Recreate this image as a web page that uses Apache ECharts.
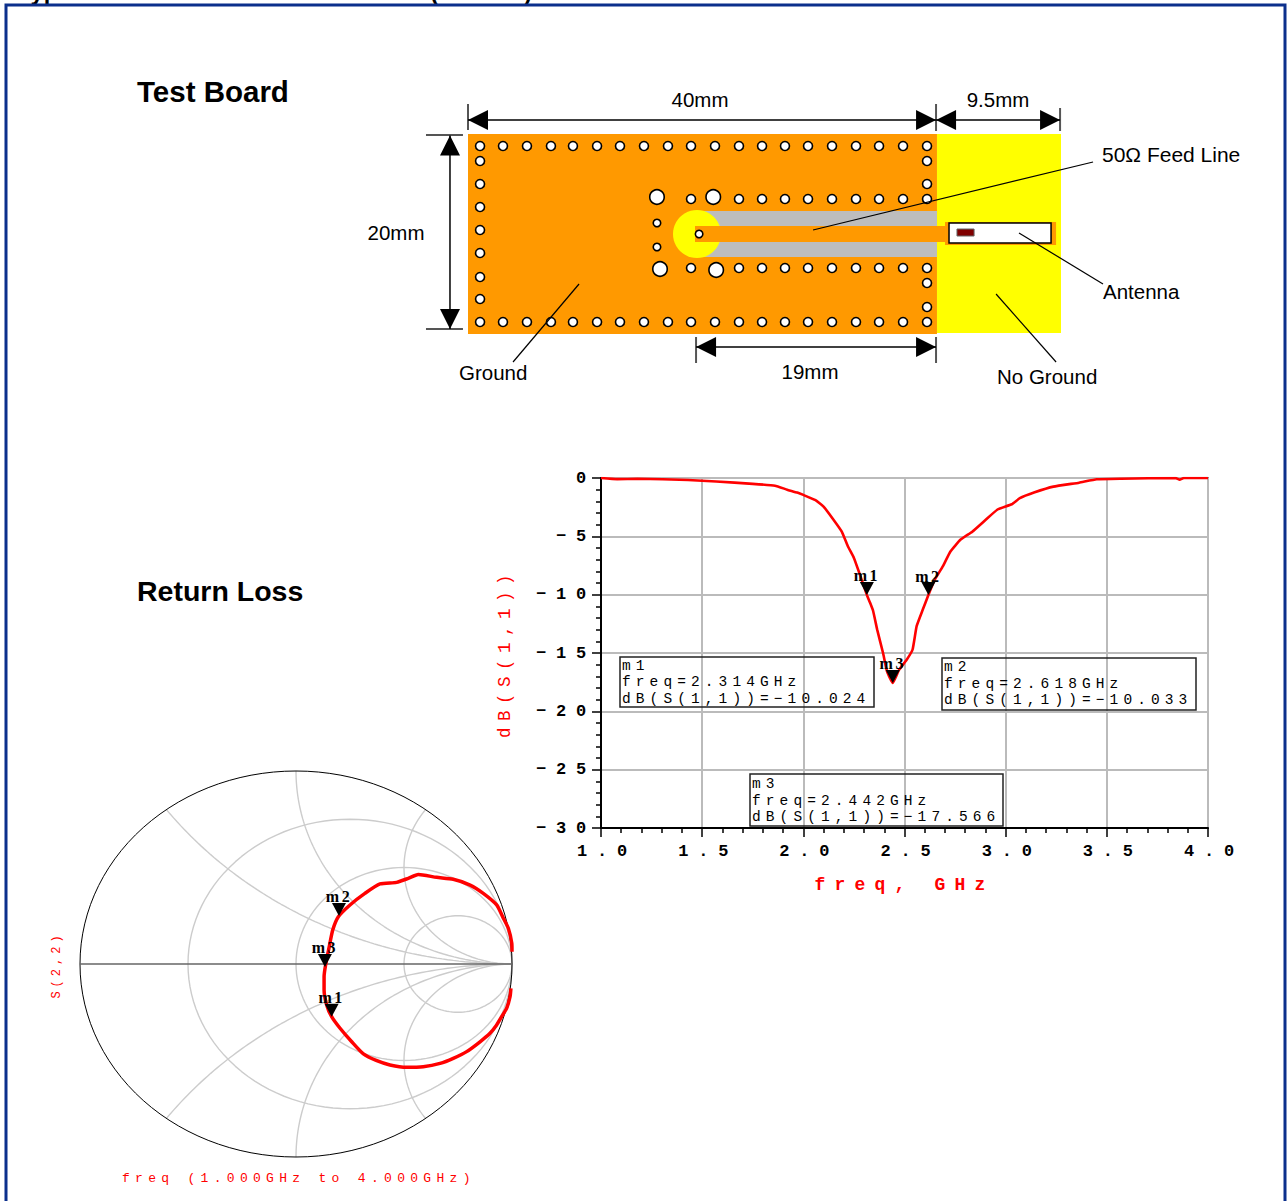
<!DOCTYPE html>
<html>
<head>
<meta charset="utf-8">
<title>Test Board and Return Loss</title>
<script src="https://cdn.jsdelivr.net/npm/echarts@6/dist/echarts.min.js"></script>
<style>
html,body{margin:0;padding:0;background:#fff;overflow:hidden}
#chart{width:1288px;height:1201px}
text[style*="Liberation Mono"]{letter-spacing:4px}
text[style*="14.5px"]{letter-spacing:5.1px}
text[style*="17px"]{letter-spacing:9.8px}
text[style*="18px"]{letter-spacing:9.2px}
text[style*="17.5px"]{letter-spacing:6.5px}
text[style*="13px"]{letter-spacing:5.3px}
text[style*="12px"]{letter-spacing:4px}
text[style*="Liberation Serif"]{letter-spacing:2.5px}
</style>
</head>
<body>
<div id="chart"></div>
<script>
// ---------- Return loss (dB(S(1,1)) against frequency) ----------
const freqGHz = [1.0,1.08,1.18,1.43,1.57,1.75,1.86,1.92,1.97,2.0,2.06,2.10,2.15,2.19,2.22,2.25,2.28,2.314,2.33,2.345,2.365,2.394,2.414,2.442,2.473,2.51,2.54,2.56,2.59,2.618,2.65,2.69,2.727,2.776,2.835,2.90,2.96,3.03,3.07,3.14,3.236,3.363,3.45,3.57,3.84,3.86,3.88,4.0];
const s11dB = [0,-0.1,-0.06,-0.17,-0.3,-0.5,-0.66,-1.0,-1.25,-1.45,-1.9,-2.45,-3.6,-4.6,-5.85,-6.85,-8.3,-10.024,-10.7,-11.4,-13,-15,-16.6,-17.566,-16.45,-15.6,-14.7,-12.7,-11.3,-10.033,-8.7,-7.55,-6.3,-5.3,-4.6,-3.6,-2.7,-2.25,-1.73,-1.25,-0.74,-0.4,-0.11,-0.06,0,-0.14,0,0];
const markerNames = ['m1','m2','m3'];
const markerFreq = [2.314,2.618,2.442];
const markerDB = [-10.024,-10.033,-17.566];
const xTickLabels = ['1.0','1.5','2.0','2.5','3.0','3.5','4.0'];
const yTickLabels = ['0','−5','−10','−15','−20','−25','−30'];

// ---------- Smith chart: reflection coefficient, real and imaginary parts ----------
const gammaRe = [.995,.991,.975,.952,.929,.898,.852,.790,.728,.667,.589,.512,.435,.374,.312,.258,.204,.165,.142,.130,.130,.137,.154,.170,.196,.250,.319,.389,.466,.520,.566,.651,.728,.806,.867,.929,.960,.983,.999,1.0];
const gammaIm = [-.126,-.169,-.230,-.273,-.316,-.359,-.403,-.454,-.489,-.515,-.532,-.535,-.523,-.501,-.466,-.403,-.333,-.273,-.212,-.135,-.066,-.005,.090,.176,.245,.306,.366,.415,.423,.444,.464,.449,.439,.409,.366,.306,.237,.185,.107,.064];
const smithMarkerRe = [.165,.199,.134];
const smithMarkerIm = [-.273,.249,-.015];
const smithResistances = [1/3,1,3];
const smithReactances = [0.5,1,2];

// ---------- Test board, in millimetres from the board's top-left corner ----------
const groundPlane = [0,0,40.08,20];
const noGroundArea = [40.08,0,50.68,19.9];
const cpwSlot = [19.57,7.7,40.08,12.3];
const feedLine = [19.4,9.2,40.77,10.8];
const antennaPad = [40.77,8.8,50.26,11.1];
const antennaBody = [41.11,8.9,49.83,10.9];
const antennaChip = [41.79,9.5,43.25,10.2];
const slotEnd = [19.57,10,2.05];
const rowViaX = [1.03,2.99,5.04,7.09,8.97,11.03,12.99,15.04,17.09,19.06,21.11,23.16,25.13,27.09,29.06,31.11,33.16,35.13,37.18,39.23];
const rowViaY = [1.2,18.8];
const leftViaX = 1.03;
const leftViaY = [2.7,5.0,7.3,9.6,11.9,14.3,16.5];
const rightViaX = 39.23;
const rightViaY = [2.7,5.0,14.9,17.3];
const innerViaX = [19.06,23.16,25.13,27.09,29.06,31.11,33.16,35.13,37.18,39.23];
const innerViaY = [6.5,13.4];
const feedVia = [[19.75,10],[16.15,8.9],[16.15,11.3]];
const largeVias = [[16.15,6.3],[20.96,6.3],[16.41,13.5],[21.21,13.6]];
const dimensionArrows = [[0,-1.4,40,-1.4],[40,-1.4,50.6,-1.4],[-1.54,0.15,-1.54,19.5],[19.49,21.3,40,21.3]];
const dimensionTicks = [[0,-3,0,-0.4],[40,-3,40,-0.3],[50.6,-2.6,50.6,-0.3],[-3.59,0.1,-0.43,0.1],[-3.59,19.5,-0.43,19.5],[19.49,20.3,19.49,22.9],[40,20.3,40,22.9]];
const leaderLines = [[29.49,9.6,53.42,2.8],[47.09,9.9,54.27,15],[45.13,16,50.26,22.8],[9.49,15,3.85,22.8]];

// ---------- Derived data ----------
const rowVias = rowViaY.flatMap(y => rowViaX.map(x => [x,y]));
const sideVias = leftViaY.map(y => [leftViaX,y]).concat(rightViaY.map(y => [rightViaX,y]));
const innerVias = innerViaY.flatMap(y => innerViaX.map(x => [x,y]));
const smallVias = rowVias.concat(sideVias, innerVias);

function resistanceCircle(r){
  const c = r/(r+1), R = 1/(r+1), pts = [];
  for(let a=0;a<=360;a+=3){ pts.push([c+R*Math.cos(a*Math.PI/180), R*Math.sin(a*Math.PI/180)]); }
  return pts;
}
function reactanceArc(x){
  const pts = [];
  for(let a=0;a<90;a+=1){
    const r = Math.tan(a*Math.PI/180), d=(r+1)*(r+1)+x*x;
    pts.push([(r*r+x*x-1)/d, 2*x/d]);
  }
  pts.push([1,0]);
  return pts;
}
const smithGrid = smithResistances.map(resistanceCircle)
  .concat(smithReactances.map(reactanceArc), smithReactances.map(x => reactanceArc(-x)));

const lineSeries = (data,color,width,z) => ({type:'line',xAxisIndex:2,yAxisIndex:2,data,showSymbol:false,silent:true,z,
  lineStyle:{color,width},clip:false});

// ---------- Drawing helpers for the board ----------
function rectEl(api,b,fill,stroke,lw){
  const p=api.coord([b[0],b[1]]), q=api.coord([b[2],b[3]]);
  return {type:'rect',shape:{x:p[0],y:p[1],width:q[0]-p[0],height:q[1]-p[1]},
    style:{fill,stroke:stroke||null,lineWidth:lw||0}};
}
function segEl(api,s,color,lw){
  const p=api.coord([s[0],s[1]]), q=api.coord([s[2],s[3]]);
  return {type:'line',shape:{x1:p[0],y1:p[1],x2:q[0],y2:q[1]},style:{stroke:color,lineWidth:lw}};
}
function headEl(tip,dx,dy){
  const L=20,W=10;
  return {type:'polygon',shape:{points:[tip,[tip[0]+dx*L-dy*W,tip[1]+dy*L-dx*W],[tip[0]+dx*L+dy*W,tip[1]+dy*L+dx*W]]},style:{fill:'#000'}};
}
function renderPlanes(params,api){
  const c=api.coord([slotEnd[0],slotEnd[1]]), rad=api.size([slotEnd[2],0])[0];
  return {type:'group',children:[
    rectEl(api,noGroundArea,'#ffff00'),
    rectEl(api,groundPlane,'#ff9900'),
    rectEl(api,cpwSlot,'#bdbdbd'),
    {type:'circle',shape:{cx:c[0],cy:c[1],r:rad},style:{fill:'#ffff00'}},
    rectEl(api,feedLine,'#ff9900'),
    rectEl(api,antennaPad,'#ff9900'),
    rectEl(api,antennaBody,'#ffffff','#000000',1.5),
    rectEl(api,antennaChip,'#800000','#666666',1)
  ]};
}
function renderNotes(params,api){
  const kids=[];
  dimensionTicks.forEach(s=>kids.push(segEl(api,s,'#555555',2)));
  leaderLines.forEach(s=>kids.push(segEl(api,s,'#000000',1.2)));
  dimensionArrows.forEach(d=>{
    kids.push(segEl(api,d,'#000000',1.5));
    const a=api.coord([d[0],d[1]]), b=api.coord([d[2],d[3]]);
    const len=Math.hypot(b[0]-a[0],b[1]-a[1]), ux=(b[0]-a[0])/len, uy=(b[1]-a[1])/len;
    kids.push(headEl(a,ux,uy)); kids.push(headEl(b,-ux,-uy));
  });
  return {type:'group',children:kids};
}

const MONO="Liberation Mono";
const note=(text,x,y,align,size)=>({type:'text',x,y,z:20,style:{text,fill:'#000',font:(size||20.5)+"px 'Liberation Sans'",textAlign:align||'center',textVerticalAlign:'middle'}});
const title=(text,x,y,size)=>({type:'text',x,y,z:20,style:{text,fill:'#000',font:"bold "+size+"px 'Liberation Sans'",textAlign:'left',textVerticalAlign:'middle'}});
const readoutLine=(text,x,y)=>({type:'text',x,y,z:20,style:{text,fill:'#000',font:"14.5px '"+MONO+"'",textAlign:'left',textVerticalAlign:'middle'}});
const readout=(lines,x,y)=>lines.map((t,i)=>readoutLine(t,x,y+i*16.5));
const box=(x,y,w,h)=>({type:'rect',z:19,shape:{x,y,width:w,height:h},style:{fill:'none',stroke:'#222',lineWidth:1.5}});

const markerSymbol='path://M0,0 L10,0 L5,9 Z';
const markerLabel={show:true,formatter:p=>p.name,position:'top',distance:-2,color:'#000',fontFamily:'Liberation Serif',fontSize:16,fontWeight:'bold'};

const option={
  backgroundColor:'#fff',animation:false,
  grid:[
    {left:468,top:134,width:593,height:200,show:false},
    {left:601,top:478,width:607,height:350,show:true,borderColor:'#333',borderWidth:1.5,backgroundColor:'transparent'},
    {left:80,top:771,width:432,height:386,show:false}
  ],
  xAxis:[
    {gridIndex:0,type:'value',min:0,max:50.68,show:false},
    {gridIndex:1,type:'value',min:1,max:4,interval:0.5,
      name:'freq, GHz',nameLocation:'middle',nameGap:48,
      nameTextStyle:{color:'#f00',fontFamily:MONO,fontSize:18,fontWeight:'bold'},
      axisLine:{show:true,onZero:false,lineStyle:{color:'#000',width:2}},
      axisTick:{show:true,length:9,lineStyle:{color:'#000',width:1.5}},
      minorTick:{show:true,splitNumber:5,length:5,lineStyle:{color:'#000',width:1.5}},
      axisLabel:{margin:15,padding:[0,0,0,12],color:'#000',fontFamily:MONO,fontSize:17,fontWeight:'bold',showMinLabel:true,showMaxLabel:true,
        hideOverlap:false,formatter:(v)=>xTickLabels[Math.round((v-1)/0.5)]},
      splitLine:{show:true,lineStyle:{color:'#bbb',width:2}}},
    {gridIndex:2,type:'value',min:-1,max:1,show:false}
  ],
  yAxis:[
    {gridIndex:0,type:'value',min:0,max:20,inverse:true,show:false},
    {gridIndex:1,type:'value',min:-30,max:0,interval:5,
      name:'dB(S(1,1))',nameLocation:'middle',nameGap:87,nameRotate:90,
      nameTextStyle:{color:'#f00',fontFamily:MONO,fontSize:17.5},
      axisLine:{show:true,onZero:false,lineStyle:{color:'#000',width:2}},
      axisTick:{show:true,length:9,lineStyle:{color:'#000',width:1.5}},
      minorTick:{show:true,splitNumber:5,length:5,lineStyle:{color:'#000',width:1.5}},
      axisLabel:{margin:5,color:'#000',fontFamily:MONO,fontSize:17,fontWeight:'bold',showMinLabel:true,showMaxLabel:true,
        hideOverlap:false,formatter:(v)=>yTickLabels[Math.round(-v/5)]},
      splitLine:{show:true,lineStyle:{color:'#bbb',width:2}}},
    {gridIndex:2,type:'value',min:-1,max:1,show:false}
  ],
  series:[
    {type:'custom',xAxisIndex:0,yAxisIndex:0,data:[[0,0]],renderItem:renderPlanes,clip:false,silent:true,z:2},
    {type:'scatter',xAxisIndex:0,yAxisIndex:0,data:smallVias,symbol:'circle',symbolSize:9,silent:true,z:3,
      itemStyle:{color:'#fff',borderColor:'#000',borderWidth:1.6,opacity:1}},
    {type:'scatter',xAxisIndex:0,yAxisIndex:0,data:feedVia,symbol:'circle',symbolSize:7.5,silent:true,z:3,
      itemStyle:{color:'#fff',borderColor:'#000',borderWidth:1.6,opacity:1}},
    {type:'scatter',xAxisIndex:0,yAxisIndex:0,data:largeVias,symbol:'circle',symbolSize:14.5,silent:true,z:3,
      itemStyle:{color:'#fff',borderColor:'#000',borderWidth:1.6,opacity:1}},
    {type:'custom',xAxisIndex:0,yAxisIndex:0,data:[[0,0]],renderItem:renderNotes,clip:false,silent:true,z:4},

    {type:'line',xAxisIndex:1,yAxisIndex:1,data:freqGHz.map((f,i)=>[f,s11dB[i]]),showSymbol:false,smooth:0.12,silent:true,z:5,
      lineStyle:{color:'#f00',width:2.6}},
    {type:'scatter',xAxisIndex:1,yAxisIndex:1,data:markerNames.map((n,i)=>({name:n,value:[markerFreq[i],markerDB[i]]})),
      symbol:markerSymbol,symbolSize:[14,13],symbolOffset:[0,-6.5],silent:true,z:6,itemStyle:{color:'#000',opacity:1},label:markerLabel},

    lineSeries(resistanceCircle(0),'#000',1,3),
    lineSeries([[-1,0],[1,0]],'#666',1.5,3),
    ...smithGrid.map(g=>lineSeries(g,'#cccccc',1.4,2)),
    {type:'line',xAxisIndex:2,yAxisIndex:2,data:gammaRe.map((r,i)=>[r,gammaIm[i]]),showSymbol:false,smooth:0.2,silent:true,z:5,
      lineStyle:{color:'#f00',width:3.5}},
    {type:'scatter',xAxisIndex:2,yAxisIndex:2,data:markerNames.map((n,i)=>({name:n,value:[smithMarkerRe[i],smithMarkerIm[i]]})),
      symbol:markerSymbol,symbolSize:[14,13],symbolOffset:[0,-6.5],silent:true,z:6,itemStyle:{color:'#000',opacity:1},label:markerLabel}
  ],
  graphic:[
    {type:'rect',z:30,shape:{x:6,y:5,width:1279,height:1230},style:{fill:'none',stroke:'#0b2f8c',lineWidth:3}},
    {type:'text',x:18,y:3.5,z:29,style:{text:'Typical Performance Characteristics (2.4 GHz)',fill:'#000',font:"bold 23.5px 'Liberation Sans'",textAlign:'left',textVerticalAlign:'bottom'}},
    title('Test Board',137,91,29.5),
    title('Return Loss',137,591,28.5),
    note('40mm',700,99),note('9.5mm',998,99),note('20mm',396,232),
    note('50Ω Feed Line',1102,154,'left',21),note('Antenna',1103,291,'left'),
    note('Ground',459,372,'left'),note('19mm',810,371),note('No Ground',997,376,'left'),
    box(620,657,254,50),...readout(['m1','freq=2.314GHz','dB(S(1,1))=−10.024'],622,665.5),
    box(942,658,254,52),...readout(['m2','freq=2.618GHz','dB(S(1,1))=−10.033'],944,667),
    box(750,774,253,52),...readout(['m3','freq=2.442GHz','dB(S(1,1))=−17.566'],752,784),
    {type:'text',x:57,y:965,rotation:Math.PI/2,z:20,style:{text:'S(2,2)',fill:'#f00',font:"12px '"+MONO+"'",textAlign:'center',textVerticalAlign:'middle'}},
    {type:'text',x:122,y:1178,z:20,style:{text:'freq (1.000GHz to 4.000GHz)',fill:'#f00',font:"13px '"+MONO+"'",textAlign:'left',textVerticalAlign:'middle'}}
  ]
};
const chart=echarts.init(document.getElementById('chart'),null,{renderer:'svg'});
chart.setOption(option);
</script>
</body>
</html>
